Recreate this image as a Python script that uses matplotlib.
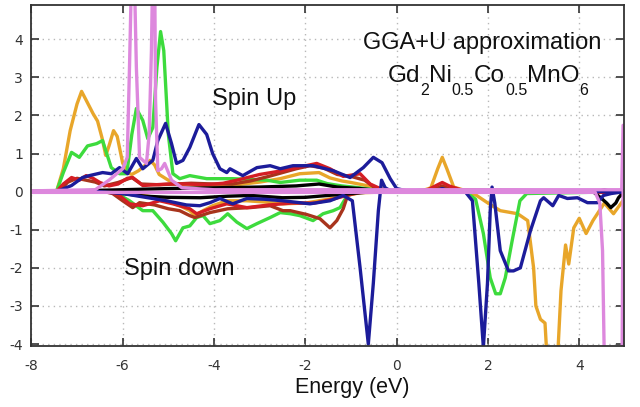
import matplotlib
matplotlib.use("Agg")
import matplotlib.pyplot as plt

# ---- partial density of states, spin up (positive) and spin down (negative) ----
orange_up_e = [-8.0, -7.45, -7.3, -7.15, -7.0, -6.9, -6.8, -6.65, -6.55, -6.45, -6.37, -6.3, -6.2, -6.12,
               -6.0, -5.9, -5.8, -5.65, -5.5, -5.4, -5.3, -5.2, -5.0, -4.8, -4.5, -4.0, -3.5, -3.0, -2.55,
               -2.12, -1.7, -1.46, -1.2, -1.0, -0.66, -0.36, -0.1, 0.5, 0.75, 0.9, 1.0, 1.1, 1.25, 1.5, 2.0, 5.0]
orange_up = [0, 0, 0.6, 1.6, 2.3, 2.63, 2.4, 2.05, 1.85, 1.4, 0.95, 1.2, 1.6, 1.45,
             0.75, 0.5, 0.45, 0.55, 0.7, 0.82, 0.7, 0.45, 0.3, 0.2, 0.18, 0.15, 0.18, 0.25, 0.34,
             0.47, 0.5, 0.36, 0.28, 0.24, 0.16, 0.08, 0.01, 0, 0.1, 0.6, 0.9, 0.6, 0.12, 0.03, 0, 0]

orange_dn_e = [-8.0, -6.3, -5.8, -5.3, -5.04, -4.75, -4.53, -4.42, -4.24, -4.03, -3.72, -3.28, -2.8, -2.49,
               -2.0, -1.5, -1.1, -0.8, 0.0, 1.5, 1.75, 2.0, 2.27, 2.65, 2.87, 3.0, 3.05, 3.15, 3.25, 3.3,
               3.4, 3.52, 3.6, 3.7, 3.77, 3.88, 4.0, 4.15, 4.3, 4.55, 4.75, 4.95]
orange_dn = [0, 0, -0.05, -0.15, -0.24, -0.37, -0.5, -0.63, -0.5, -0.37, -0.24, -0.24, -0.28, -0.32,
             -0.3, -0.2, -0.1, -0.03, 0, 0, -0.1, -0.3, -0.5, -0.58, -0.76, -2.0, -3.0, -3.35, -3.45, -4.5,
             -5.0, -4.5, -2.6, -1.4, -1.9, -0.95, -0.7, -1.1, -0.76, -0.3, -0.58, -0.25]

green_up_e = [-8.0, -7.45, -7.3, -7.12, -6.95, -6.77, -6.57, -6.44, -6.35, -6.25, -6.07, -5.91, -5.8, -5.7,
              -5.56, -5.45, -5.34, -5.25, -5.17, -5.1, -5.0, -4.9, -4.75, -4.53, -4.16, -3.59, -2.84, -2.55,
              -2.12, -1.75, -1.52, -1.2, -0.8, -0.4, 0.0, 5.0]
green_up = [0, 0, 0.5, 1.03, 0.9, 1.2, 1.26, 1.34, 1.0, 0.63, 0.47, 0.47, 1.5, 2.18,
            1.87, 1.39, 1.68, 3.26, 4.2, 3.7, 1.5, 0.47, 0.34, 0.42, 0.34, 0.34, 0.3, 0.24,
            0.3, 0.3, 0.21, 0.15, 0.1, 0.03, 0, 0]

green_dn_e = [-8.0, -6.2, -5.85, -5.56, -5.34, -5.12, -4.93, -4.84, -4.68, -4.53, -4.38, -4.24, -4.09,
              -3.87, -3.7, -3.5, -3.28, -3.06, -2.77, -2.55, -2.33, -2.12, -1.83, -1.61, -1.39, -1.24,
              -1.08, -0.8, 1.5, 1.73, 1.9, 2.05, 2.17, 2.27, 2.38, 2.53, 2.7, 2.85, 5.0]
green_dn = [0, 0, -0.24, -0.5, -0.5, -0.8, -1.1, -1.29, -0.95, -0.9, -0.68, -0.63, -0.84,
            -0.76, -0.58, -0.8, -0.97, -0.84, -0.68, -0.55, -0.58, -0.63, -0.76, -0.58, -0.5, -0.42,
            -0.1, 0, 0, -0.2, -1.1, -2.26, -2.68, -2.68, -2.26, -1.29, -0.24, -0.05, 0]

blue_up_e = [-8.0, -7.45, -7.12, -6.88, -6.73, -6.44, -6.25, -6.07, -5.89, -5.7, -5.56, -5.34, -5.23,
             -5.06, -4.93, -4.82, -4.68, -4.53, -4.33, -4.16, -4.03, -3.87, -3.72, -3.65, -3.37, -3.06,
             -2.77, -2.55, -2.27, -1.83, -1.39, -1.02, -0.73, -0.51, -0.32, -0.14, 0.0, 0.3, 0.8, 1.0,
             1.2, 5.0]
blue_up = [0, 0, 0.16, 0.37, 0.42, 0.5, 0.47, 0.63, 0.47, 0.87, 0.6, 0.82, 1.34,
           1.79, 1.26, 0.74, 0.82, 1.16, 1.76, 1.5, 1.0, 0.6, 0.5, 0.6, 0.42, 0.63,
           0.68, 0.6, 0.68, 0.68, 0.55, 0.37, 0.63, 0.9, 0.76, 0.34, 0.08, 0, 0, 0.08,
           0, 0]

blue_dn_e = [-8.0, -6.5, -6.0, -5.5, -5.0, -4.6, -4.31, -4.09, -3.87, -3.59, -3.28, -2.9, -2.49, -1.9,
             -1.46, -1.17, -0.97, -0.8, -0.62, -0.51, -0.4, -0.33, -0.25, -0.1, 1.5, 1.66, 1.8, 1.9,
             1.99, 2.05, 2.09, 2.15, 2.27, 2.45, 2.56, 2.71, 2.93, 3.15, 3.22, 3.42, 3.55, 3.74, 3.96,
             4.18, 4.4, 4.53, 4.7, 4.98]
blue_dn = [0, 0, -0.05, -0.15, -0.25, -0.35, -0.37, -0.29, -0.18, -0.32, -0.18, -0.2, -0.24, -0.32,
           -0.24, -0.1, -0.24, -2.0, -4.0, -2.4, -0.5, 0.3, 0.1, 0, 0, -0.24, -2.4, -4.08,
           -2.4, -0.5, 0.12, -0.3, -1.55, -2.08, -2.08, -2.0, -1.03, -0.24, -0.16, -0.37, -0.1, -0.18, -0.16,
           -0.29, -0.29, -0.1, -0.05, 0]

red_up_e = [-8.0, -7.45, -7.3, -7.12, -6.95, -6.8, -6.65, -6.5, -6.3, -6.1, -5.9, -5.78, -5.65, -5.56,
            -5.3, -5.0, -4.6, -4.2, -3.8, -3.5, -3.0, -2.5, -2.1, -1.75, -1.46, -1.17, -0.8, -0.58,
            -0.36, -0.2, 0.6, 0.85, 1.0, 1.15, 1.4, 1.8, 5.0]
red_up = [0, 0, 0.2, 0.37, 0.3, 0.42, 0.35, 0.24, 0.15, 0.2, 0.35, 0.37, 0.25, 0.16,
          0.18, 0.2, 0.2, 0.18, 0.22, 0.3, 0.45, 0.55, 0.65, 0.74, 0.6, 0.4, 0.47, 0.2,
          0.08, 0, 0, 0.15, 0.24, 0.15, 0.05, 0, 0]

red_dn_e = [-8.0, -6.3, -6.07, -5.85, -5.56, -5.19, -4.9, -4.53, -4.38, -4.09, -3.72, -3.28, -2.8,
            -2.3, -1.8, -1.4, -1.1, -0.8, 0.0, 5.0]
red_dn = [0, 0, -0.1, -0.32, -0.37, -0.24, -0.32, -0.45, -0.58, -0.45, -0.32, -0.42, -0.35,
          -0.3, -0.3, -0.2, -0.1, -0.02, 0, -0.02]

brown_up_e = [-8.0, -7.4, -7.2, -7.0, -6.8, -6.6, -6.4, -6.1, -5.8, -5.6, -5.2, -4.5, -4.0, -3.6, -3.2,
              -2.8, -2.5, -2.2, -1.9, -1.6, -1.3, -1.0, -0.7, -0.5, -0.3, 0.0, 0.8, 1.0, 1.2, 5.0]
brown_up = [0, 0, 0.25, 0.35, 0.3, 0.25, 0.15, 0.24, 0.37, 0.2, 0.18, 0.22, 0.2, 0.2, 0.28,
            0.4, 0.5, 0.6, 0.68, 0.62, 0.45, 0.4, 0.3, 0.12, 0.03, 0, 0.05, 0.15, 0.05, 0]

brown_dn_e = [-8.0, -6.4, -6.22, -6.0, -5.78, -5.63, -5.3, -5.0, -4.75, -4.53, -4.42, -4.09, -3.7,
              -3.21, -2.77, -2.49, -2.33, -1.97, -1.68, -1.46, -1.31, -1.17, -1.06, -0.8, 5.0]
brown_dn = [0, 0, -0.05, -0.24, -0.42, -0.29, -0.35, -0.45, -0.5, -0.63, -0.68, -0.55, -0.45,
            -0.42, -0.37, -0.5, -0.5, -0.6, -0.71, -0.95, -0.76, -0.45, -0.05, 0, 0]

black_up_e = [-8.0, -7.0, -6.0, -5.0, -4.0, -3.0, -2.2, -1.7, -1.3, -0.8, -0.4, 0.0, 4.4, 4.55, 4.7, 5.0]
black_up = [0, 0.02, 0.05, 0.08, 0.1, 0.12, 0.15, 0.2, 0.12, 0.08, 0.03, 0, 0, 0.05, 0, 0]

black_dn_e = [-8.0, -6.3, -6.0, -5.5, -5.0, -4.3, -3.7, -3.2, -2.5, -2.0, -1.5, -1.0, -0.5, 4.3, 4.47,
              4.6, 4.69, 4.8, 4.86, 4.98]
black_dn = [0, 0, -0.05, -0.12, -0.15, -0.16, -0.12, -0.1, -0.16, -0.15, -0.1, -0.05, 0, 0, -0.16,
            -0.3, -0.42, -0.3, -0.16, 0]

violet_up_e = [-8.0, -6.6, -6.3, -6.0, -5.9, -5.85, -5.8, -5.75, -5.7, -5.63, -5.48, -5.42, -5.37,
               -5.34, -5.3, -5.28, -5.23, -5.15, -5.08, -4.93, -4.7, -4.0, 4.93, 4.96, 4.99]
violet_up = [0.02, 0.05, 0.3, 0.6, 0.9, 3.3, 6.0, 6.0, 3.26, 0.9, 0.74, 1.5, 3.7,
             6.0, 6.0, 2.4, 0.55, 0.6, 0.74, 0.3, 0.1, 0.05, 0.05, 1.74, 1.74]

violet_dn_e = [-8.0, 4.35, 4.45, 4.51, 4.55, 4.6, 4.93, 4.96]
violet_dn = [-0.02, -0.02, -0.3, -1.55, -4.5, -6.0, -6.0, 0.0]

x_ticks = [-8, -6, -4, -2, 0, 2, 4]
y_ticks = [-4, -3, -2, -1, 0, 1, 2, 3, 4]

# formula pieces: (text, is_subscript)
formula_parts = [("Gd", False), ("2", True), ("Ni", False), ("0.5", True),
                 ("Co", False), ("0.5", True), ("MnO", False), ("6", True)]

series = [
    ("#e8a62a", orange_up_e, orange_up, orange_dn_e, orange_dn),
    ("#3ddb3d", green_up_e, green_up, green_dn_e, green_dn),
    ("#a8341c", brown_up_e, brown_up, brown_dn_e, brown_dn),
    ("#d41e24", red_up_e, red_up, red_dn_e, red_dn),
    ("#000000", black_up_e, black_up, black_dn_e, black_dn),
    ("#1c1c9a", blue_up_e, blue_up, blue_dn_e, blue_dn),
    ("#dd88dd", violet_up_e, violet_up, violet_dn_e, violet_dn),
]

W, H = 640, 407
fig = plt.figure(figsize=(W / 100, H / 100), dpi=100)
ax = fig.add_axes([0.049, 0.149, 0.926, 0.839])

for z, (col, eu, du, ed, dd) in enumerate(series):
    ax.plot(eu, du, color=col, lw=2.4, solid_joinstyle="round", zorder=3 + z)
    ax.plot(ed, dd, color=col, lw=2.4, solid_joinstyle="round", zorder=3 + z)

ax.set_xlim(-8, 4.98)
ax.set_ylim(-4.06, 4.9)
ax.set_xticks(x_ticks)
ax.set_yticks(y_ticks)
ax.set_xticklabels([str(v) for v in x_ticks])
ax.set_yticklabels([str(v) for v in y_ticks])
ax.grid(True, color="#b8b8b8", linestyle=(0, (1, 3)), lw=1.0, zorder=1)
ax.tick_params(direction="in", length=6, width=1.2, color="#333333", top=True, right=True,
               labelsize=10, labelcolor="#333333")
ax.tick_params(axis="x", pad=9)
ax.tick_params(axis="y", pad=6)
for s in ax.spines.values():
    s.set_color("#333333")
    s.set_linewidth(1.3)
    s.set_zorder(20)

ax.text(-0.98, -5.28, "Energy (eV)", ha="center", va="baseline", fontsize=15.5,
        family="Liberation Sans", color="#111111", clip_on=False)

txt = dict(family="Liberation Sans", color="#111111", zorder=30)
ax.text(-4.05, 2.26, "Spin Up", ha="left", va="baseline", fontsize=17, **txt)
ax.text(-5.98, -2.18, "Spin down", ha="left", va="baseline", fontsize=17, **txt)
ax.text(1.88, 3.74, "GGA+U approximation", ha="center", va="baseline", fontsize=17, **txt)

# chemical formula laid out piece by piece with lowered subscripts
renderer = fig.canvas.get_renderer()
base_px = H - 82
sub_px = H - 95
pieces = []
x_px = 0.0
for s, sub in formula_parts:
    t = fig.text(x_px / W, (sub_px if sub else base_px) / H, s, ha="left", va="baseline",
                 fontsize=11.5 if sub else 17.5, **txt)
    bb = t.get_window_extent(renderer)
    pieces.append(t)
    x_px = bb.x1
total = x_px
left = 488 - total / 2
for t in pieces:
    x0, y0 = t.get_position()
    t.set_x(x0 + left / W)

fig.savefig("out.png", dpi=100)
